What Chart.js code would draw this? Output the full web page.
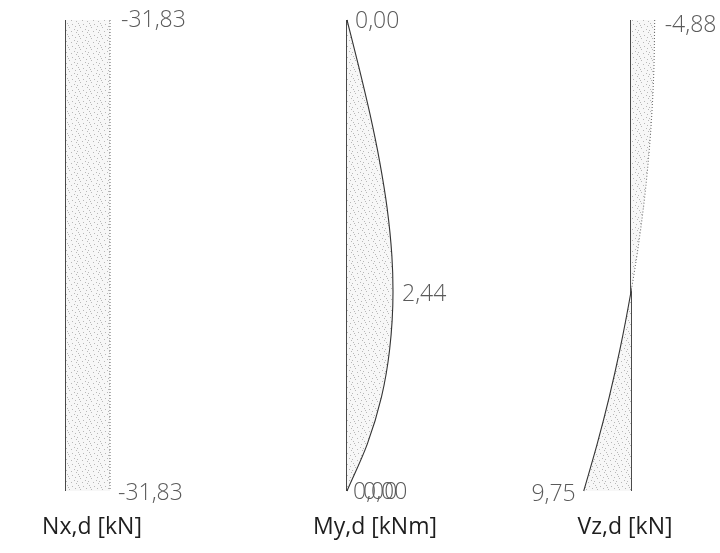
<!DOCTYPE html>
<html>
<head>
<meta charset="utf-8">
<script src="https://cdn.jsdelivr.net/npm/chart.js@4/dist/chart.umd.min.js"></script>
<style>
  html, body { margin: 0; padding: 0; background: #fff; }
  #wrap { position: relative; width: 720px; height: 553px; }
</style>
</head>
<body>
<div id="wrap"><canvas id="diagrams" width="720" height="553"></canvas></div>
<script>
// Member length [m] and stations along it (top = 0)
const memberLength = 1.3;
const stations = [0, 0.13, 0.26, 0.39, 0.52, 0.65, 0.75, 0.91, 1.04, 1.17, 1.30];

// Internal forces at the stations
const normalForce = [-31.83, -31.83, -31.83, -31.83, -31.83, -31.83, -31.83, -31.83, -31.83, -31.83, -31.83];
const bendingMoment = [0, 0.63, 1.22, 1.73, 2.13, 2.38, 2.44, 2.26, 1.83, 1.08, 0];
const shearForce = [-4.88, -4.73, -4.29, -3.56, -2.54, -1.22, 0, 2.29, 4.48, 6.97, 9.75];

const diagramTitles = ['Nx,d [kN]', 'My,d [kNm]', 'Vz,d [kN]'];

const W = 720, H = 553;

// build a linear scale so that value 0 lands on basePx with pxPerUnit spacing
function placeScale(basePx, pxPerUnit, size, reverse) {
    if (reverse) {
        return { min: (basePx - size) / pxPerUnit, max: basePx / pxPerUnit, reverse: true };
    }
    return { min: -basePx / pxPerUnit, max: (size - basePx) / pxPerUnit, reverse: false };
}

function hiddenScale(axis, range) {
    return Object.assign({ type: 'linear', axis: axis, display: false, grid: { display: false } }, range);
}

// stippled hatch used for the diagram areas
function stipple() {
    const c = document.createElement('canvas');
    c.width = 11; c.height = 11;
    const g = c.getContext('2d');
    g.fillStyle = '#f7f7f7';
    g.fillRect(0, 0, 11, 11);
    g.fillStyle = '#b8b8b8';
    [[1, 1], [6, 2], [3, 5], [9, 4], [0, 8], [5, 9], [8, 7], [10, 10], [2, 3]].forEach(p => g.fillRect(p[0], p[1], 1, 1));
    return g.createPattern(c, 'repeat');
}
const hatch = stipple();

const points = values => values.map((v, i) => ({ x: v, y: stations[i] }));
const baseline = () => [{ x: 0, y: 0 }, { x: 0, y: memberLength }];

const last = stations.length - 1;
const peak = bendingMoment.indexOf(Math.max(...bendingMoment));

// dotted outline on the negative side, solid on the positive side
function outlineDash(ctx) {
    return ctx.p1.parsed.x <= 0 && ctx.p0.parsed.x <= 0 ? [1, 2] : [];
}
function outlineColor(ctx) {
    return ctx.p1.parsed.x <= 0 && ctx.p0.parsed.x <= 0 ? '#707070' : '#333';
}

function diagram(xAxis, values) {
    return [{
        data: points(values), xAxisID: xAxis, yAxisID: 'y',
        fill: { value: 0 }, showLine: true, cubicInterpolationMode: 'monotone',
        backgroundColor: hatch, borderColor: '#333', borderWidth: 1.1, pointRadius: 0,
        segment: { borderDash: outlineDash, borderColor: outlineColor }
    }, {
        data: baseline(), xAxisID: xAxis, yAxisID: 'y', fill: false, showLine: true,
        borderColor: '#2b2b2b', borderWidth: 1.7, pointRadius: 0
    }];
}

const datasets = [].concat(
    diagram('xN', normalForce),
    diagram('xM', bendingMoment),
    diagram('xV', shearForce)
);

const fmt = v => v.toFixed(2).replace('.', ',');

// value labels and diagram titles
const labelPlugin = {
    id: 'forceLabels',
    afterDatasetsDraw(chart) {
        const ctx = chart.ctx;
        const s = chart.scales;
        const yTop = s.y.getPixelForValue(0);
        const yBot = s.y.getPixelForValue(memberLength);
        ctx.save();
        ctx.font = '300 23px "Open Sans", "DejaVu Sans", sans-serif';
        ctx.fillStyle = '#5a5a5a';
        ctx.textBaseline = 'middle';
        ctx.textAlign = 'left';

        const nx = s.xN.getPixelForValue(normalForce[0]);
        ctx.fillText(fmt(normalForce[0]), nx + 11, yTop);
        ctx.fillText(fmt(normalForce[last]), nx + 8, yBot + 2);

        const m0 = s.xM.getPixelForValue(bendingMoment[0]);
        ctx.fillText(fmt(bendingMoment[0]), m0 + 8, yTop + 1);
        ctx.fillText(fmt(bendingMoment[last]), m0 + 6, yBot + 1);
        ctx.fillText(fmt(bendingMoment[last]), m0 + 16, yBot + 1);
        ctx.fillText(fmt(bendingMoment[peak]),
            s.xM.getPixelForValue(bendingMoment[peak]) + 9, s.y.getPixelForValue(stations[peak]) + 3);

        ctx.fillText(fmt(shearForce[0]), s.xV.getPixelForValue(shearForce[0]) + 10, yTop + 5);
        ctx.textAlign = 'right';
        ctx.fillText(fmt(shearForce[last]), s.xV.getPixelForValue(shearForce[last]) - 8, yBot + 3);

        ctx.font = '400 23px "Open Sans", "DejaVu Sans", sans-serif';
        ctx.fillStyle = '#1e1e1e';
        ctx.textAlign = 'center';
        const titleY = 527;
        ctx.fillText(diagramTitles[0], 92, titleY);
        ctx.fillText(diagramTitles[1], 375, titleY);
        ctx.fillText(diagramTitles[2], 625, titleY);
        ctx.restore();
    }
};

new Chart(document.getElementById('diagrams'), {
    type: 'scatter',
    data: { datasets: datasets },
    options: {
        indexAxis: 'y',
        responsive: false,
        animation: false,
        layout: { padding: 0 },
        plugins: { legend: { display: false }, tooltip: { enabled: false } },
        scales: {
            xN: hiddenScale('x', placeScale(66, 44 / 31.83, W, true)),
            xM: hiddenScale('x', placeScale(347, 46 / 2.44, W, false)),
            xV: hiddenScale('x', placeScale(631, 4.85, W, true)),
            y: hiddenScale('y', (function () {
                const k = 471 / memberLength;
                return { min: -20 / k, max: (H - 20) / k, reverse: true };
            })())
        }
    },
    plugins: [labelPlugin]
});
</script>
</body>
</html>
